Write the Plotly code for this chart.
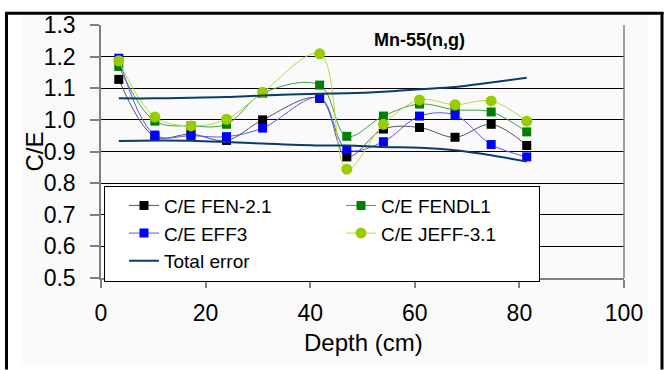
import plotly.graph_objects as go

# Measured depths (cm)
depth = [3.4, 10.3, 17.2, 24.0, 30.9, 41.8, 47.0, 54.0, 60.9, 67.7, 74.6, 81.4]

# C/E ratios per nuclear data library
ce_fen21 = [1.128, 0.947, 0.955, 0.935, 1.000, 1.068, 0.883, 0.971, 0.976, 0.945, 0.986, 0.919]
ce_fendl1 = [1.169, 0.996, 0.981, 0.986, 1.084, 1.110, 0.948, 1.012, 1.050, 1.032, 1.025, 0.962]
ce_eff3 = [1.195, 0.952, 0.950, 0.947, 0.974, 1.070, 0.906, 0.931, 1.012, 1.015, 0.922, 0.883]
ce_jeff31 = [1.187, 1.009, 0.981, 1.002, 1.087, 1.209, 0.844, 0.986, 1.063, 1.048, 1.060, 0.996]

# Total uncertainty band (upper / lower bounds)
err_upper = [1.068, 1.068, 1.070, 1.072, 1.077, 1.083, 1.084, 1.089, 1.097, 1.104, 1.118, 1.133]
err_lower = [0.933, 0.935, 0.934, 0.930, 0.925, 0.919, 0.919, 0.914, 0.912, 0.904, 0.888, 0.868]

x_ticks = [0, 20, 40, 60, 80, 100]
y_ticks = [0.5, 0.6, 0.7, 0.8, 0.9, 1.0, 1.1, 1.2, 1.3]
y_tick_text = ["0.5", "0.6", "0.7", "0.8", "0.9", "1.0", "1.1", "1.2", "1.3"]

W, H = 670, 370
ML, MR, MT, MB = 101, 46, 18, 92
PW, PH = W - ML - MR, H - MT - MB
FONT = "Arial, Liberation Sans, sans-serif"


def px_x(p):
    return (p - ML) / PW


def px_y(p):
    return 1 - (p - MT) / PH


fig = go.Figure()

series = [
    ("C/E FEN-2.1", ce_fen21, "#000000", "#555555", "square", 9),
    ("C/E FENDL1", ce_fendl1, "#008000", "#40a040", "square", 9),
    ("C/E EFF3", ce_eff3, "#0000FF", "#5555ff", "square", 9),
    ("C/E JEFF-3.1", ce_jeff31, "#99CC00", "#b5dc40", "circle", 11),
]
for name, vals, mcol, lcol, sym, size in series:
    fig.add_trace(go.Scatter(
        x=depth, y=vals, name=name, mode="lines+markers",
        line=dict(color=lcol, width=1, shape="spline", smoothing=1.0),
        marker=dict(color=mcol, symbol=sym, size=size, line=dict(width=0)),
    ))

for i, band in enumerate([err_upper, err_lower]):
    fig.add_trace(go.Scatter(
        x=depth, y=band, name="Total error", mode="lines",
        line=dict(color="#0B3C6B", width=2, shape="spline", smoothing=1.0),
        showlegend=(i == 0), legendgroup="err",
    ))

# outer frame (left, top, right) and faint chart-area background
fig.add_shape(type="rect", xref="paper", yref="paper",
              x0=px_x(22), x1=px_x(648), y0=px_y(366), y1=px_y(8),
              fillcolor="#FAFAFA", line=dict(width=0), layer="below")
frame = dict(color="#000000", width=3)
fig.add_shape(type="line", xref="paper", yref="paper",
              x0=px_x(6.5), x1=px_x(6.5), y0=px_y(372), y1=px_y(5), line=frame)
fig.add_shape(type="line", xref="paper", yref="paper",
              x0=px_x(5), x1=px_x(663.5), y0=px_y(6), y1=px_y(6), line=frame)
fig.add_shape(type="line", xref="paper", yref="paper",
              x0=px_x(662), x1=px_x(662), y0=px_y(372), y1=px_y(5), line=frame)
# right border of plot area
fig.add_shape(type="line", xref="paper", yref="paper",
              x0=1, x1=1, y0=0, y1=1, line=dict(color="#808080", width=1.5))

fig.add_annotation(text="<b>Mn-55(n,g)</b>", xref="paper", yref="paper",
                   x=px_x(419), y=px_y(33), showarrow=False,
                   xanchor="center", yanchor="middle",
                   font=dict(family=FONT, size=18, color="#000000"))

# axis titles
fig.add_annotation(text="Depth (cm)", xref="paper", yref="paper",
                   x=px_x(363), y=px_y(344), showarrow=False,
                   xanchor="center", yanchor="middle",
                   font=dict(family=FONT, size=24, color="#000000"))
fig.add_annotation(text="C/E", xref="paper", yref="paper",
                   x=px_x(34), y=px_y(148), showarrow=False, textangle=-90,
                   xanchor="center", yanchor="middle",
                   font=dict(family=FONT, size=24, color="#000000"))

fig.update_layout(
    width=W, height=H,
    margin=dict(l=ML, r=MR, t=MT, b=MB, pad=0),
    paper_bgcolor="#FFFFFF", plot_bgcolor="rgba(0,0,0,0)",
    font=dict(family=FONT, color="#000000"),
    showlegend=True,
    legend=dict(
        orientation="h", x=px_x(104), y=px_y(183),
        xanchor="left", yanchor="top",
        bgcolor="#FFFFFF", bordercolor="#000000", borderwidth=1,
        font=dict(family=FONT, size=19, color="#000000"),
        entrywidth=153, entrywidthmode="pixels", indentation=19,
        tracegroupgap=0, traceorder="normal",
    ),
    xaxis=dict(
        range=[0, 100], tickvals=x_ticks, showgrid=False, zeroline=False,
        showline=True, linecolor="#808080", linewidth=1.5,
        ticks="outside", ticklen=8, tickcolor="#808080", tickwidth=1.5,
        tickfont=dict(family=FONT, size=23, color="#000000"),
        ticklabelstandoff=6,
    ),
    yaxis=dict(
        range=[0.5, 1.3], tickvals=y_ticks, ticktext=y_tick_text,
        showgrid=True, gridcolor="#000000", gridwidth=1, zeroline=False,
        showline=True, linecolor="#808080", linewidth=1.5,
        ticks="outside", ticklen=9, tickcolor="#808080", tickwidth=1.5,
        tickfont=dict(family=FONT, size=23, color="#000000"),
        ticklabelstandoff=10,
    ),
)

fig.write_html("out.html")
